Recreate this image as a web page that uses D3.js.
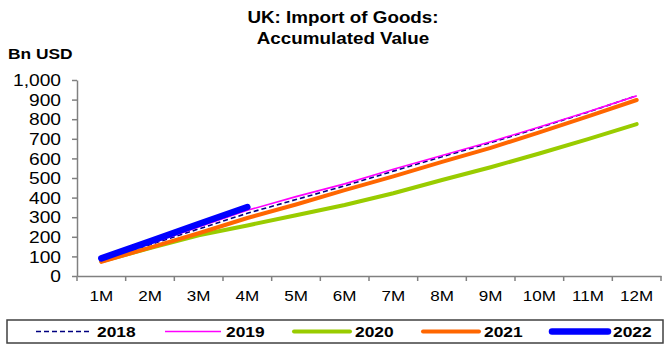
<!DOCTYPE html>
<html><head><meta charset="utf-8">
<script src="https://cdn.jsdelivr.net/npm/d3@7"></script>
<style>body{margin:0;background:#fff}svg{display:block;font-family:Arial,"Liberation Sans",sans-serif}</style>
</head><body><svg id="c" width="667" height="358"></svg>
<script>
const months = ["1M","2M","3M","4M","5M","6M","7M","8M","9M","10M","11M","12M"];
const yTicks = [0,100,200,300,400,500,600,700,800,900,1000];
const seriesNames = ["2018","2019","2020","2021","2022"];
const v2018 = [80,160,240,320,390,460,535,608,680,757,836,920];
const v2019 = [85,165,250,335,405,470,545,615,685,760,838,919];
const v2020 = [75,142,208,258,310,362,422,490,555,625,698,775];
const v2021 = [72,145,218,296,365,438,508,582,654,733,814,898];
const v2022 = [90,177,265,352];
const colors = ["#000080","#FF00FF","#99CC00","#FF6600","#0000FF"];
const widths = [1.6,1.6,4,4,6.5];
const dashes = ["5,3",null,null,null,null];
const values = [v2018,v2019,v2020,v2021,v2022];

const svg = d3.select("#c");
const L=77,R=661,T=80,B=276;
const x = d3.scaleBand().domain(months).range([L,R]);
const y = d3.scaleLinear().domain([0,1000]).range([B,T]);

// title
const title = svg.append("g").attr("font-weight","bold").attr("font-size",16.5).attr("text-anchor","middle");
[["UK: Import of Goods:",23],["Accumulated Value",44]].forEach(([t,yy])=>{
  title.append("text").attr("transform",`translate(343,${yy}) scale(1.14,1)`).text(t);
});
svg.append("text").attr("transform","translate(8,59) scale(1.12,1)").attr("font-weight","bold").attr("font-size",15.5).text("Bn USD");

// y axis
const ya = svg.append("g").attr("transform",`translate(${L},0)`)
  .call(d3.axisLeft(y).tickValues(yTicks).tickSize(5).tickSizeOuter(0).tickFormat(d3.format(",")));
ya.selectAll("path,line").attr("stroke","#808080").attr("stroke-width",1.5);
ya.selectAll("text").attr("font-size",16).attr("fill","#000").attr("font-family","Arial, 'Liberation Sans', sans-serif")
  .attr("x",null).attr("dx",null).attr("dy","0.35em").attr("transform","translate(-16,0) scale(1.2,1)");

// x axis
const xa = svg.append("g").attr("transform",`translate(0,${B})`)
  .call(d3.axisBottom(x).tickSize(0).tickSizeOuter(0));
xa.selectAll("path").attr("stroke","#808080").attr("stroke-width",1.5);
xa.selectAll(".tick text").attr("font-size",15.5).attr("fill","#000").attr("font-family","Arial, 'Liberation Sans', sans-serif")
  .attr("y",null).attr("dy",null).attr("transform","translate(0,25) scale(1.1,1)");
// tick marks at band boundaries
const bounds = months.map(m=>x(m)).concat([x(months[months.length-1])+x.bandwidth()]);
xa.selectAll("line.b").data(bounds).enter().append("line").attr("class","b")
  .attr("x1",d=>d).attr("x2",d=>d).attr("y1",0).attr("y2",5).attr("stroke","#808080").attr("stroke-width",1.5);

// lines
const line = d3.line().x((d,i)=>x(months[i])+x.bandwidth()/2).y(d=>y(d));
values.forEach((vals,k)=>{
  svg.append("path").datum(vals).attr("d",line).attr("fill","none")
    .attr("stroke",colors[k]).attr("stroke-width",widths[k])
    .attr("stroke-dasharray",dashes[k]).attr("stroke-linecap",k>=2?"round":"butt");
});

// legend
svg.append("rect").attr("x",7).attr("y",320).attr("width",656).attr("height",23)
  .attr("fill","none").attr("stroke","#404040").attr("stroke-width",1.5);
const lx = d3.scalePoint().domain(seriesNames).range([36,552]);
const lg = svg.append("g");
seriesNames.forEach((s,k)=>{
  const x0 = lx(s);
  lg.append("line").attr("x1",x0).attr("x2",x0+56).attr("y1",331.5).attr("y2",331.5)
    .attr("stroke",colors[k]).attr("stroke-width",widths[k]).attr("stroke-dasharray",dashes[k])
    .attr("stroke-linecap",k>=2?"round":"butt");
  lg.append("text").attr("transform",`translate(${x0+61},337) scale(1.12,1)`)
    .attr("font-weight","bold").attr("font-size",15.5).text(s);
});
</script></body></html>
